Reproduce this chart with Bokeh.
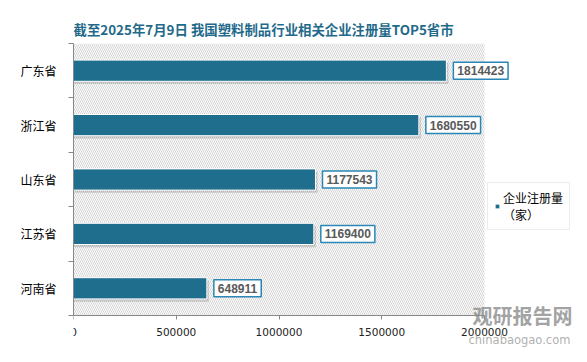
from bokeh.plotting import figure
from bokeh.models import (ColumnDataSource, Range1d, FixedTicker, BasicTickFormatter,
                          Label, Legend, LegendItem, BoxAnnotation)
from bokeh.core.properties import value
from bokeh.transform import dodge
from bokeh.embed import file_html
from bokeh.resources import INLINE

# ---- data ----
title_text = "截至2025年7月9日 我国塑料制品行业相关企业注册量TOP5省市"
provinces = ["广东省", "浙江省", "山东省", "江苏省", "河南省"]
counts = [1814423, 1680550, 1177543, 1169400, 648911]
x_ticks = [0, 500000, 1000000, 1500000, 2000000]
series_name = "企业注册量\n（家）"

BAR = "#1f6e8e"
CJK = "Noto Sans CJK SC"

# ---- layout (pixels) ----
W, H = 587, 362
L, PR, T, PB = 73, 484, 43, 315      # hatched plot area
FR, FB = 582, 357                    # frame extends further for annotations

n = len(provinces)
x_max = x_ticks[-1]
x_end = x_max * (FR - L) / (PR - L)
y_start = -n * (FB - PB) / (PB - T)

ypos = [n - i - 0.5 for i in range(n)]
source = ColumnDataSource(dict(y=ypos, val=counts, name=provinces,
                               label=[str(v) for v in counts]))

p = figure(width=W, height=H, x_range=Range1d(0, x_end), y_range=Range1d(y_start, n),
           output_backend="svg", toolbar_location=None,
           min_border_left=L, min_border_right=W - FR, min_border_top=T,
           min_border_bottom=H - FB)
p.background_fill_color = "white"
p.border_fill_color = "white"
p.outline_line_color = None
p.xgrid.visible = False
p.ygrid.visible = False

p.title.text = title_text
p.title.text_font = CJK
p.title.text_font_size = "13.4px"
p.title.text_font_style = "bold"
p.title.text_color = "#1f6a8a"
p.title.align = "left"
p.title.offset = 0
p.title.standoff = 9

# hatched plot area
p.add_layout(BoxAnnotation(left=0, right=x_max, bottom=0, top=n,
                           fill_alpha=0, line_alpha=0, hatch_pattern="left_diagonal_line",
                           hatch_color="#d4d4d4", hatch_scale=4, hatch_weight=1,
                           level="underlay"))

# shadows
p.hbar(y=dodge("y", -0.05), left=0, right=dodge("val", 10000), height=0.39, source=source,
       fill_color="#000000", fill_alpha=0.15, line_color=None)
bars = p.hbar(y="y", left=0, right="val", height=0.39, source=source,
              fill_color=BAR, line_color="white", line_width=1)

p.text(x="val", y="y", text="label", source=source, x_offset=7,
       text_baseline="middle", text_align="left",
       text_font=value("Liberation Sans"), text_font_size="12px", text_font_style="bold",
       text_color="#595959", background_fill_color="white",
       border_line_color="#2a86b5", border_line_width=1.5, padding=4)

# axes
p.xaxis.fixed_location = 0
p.xaxis.bounds = (0, x_max)
p.xaxis.ticker = FixedTicker(ticks=x_ticks)
p.xaxis.formatter = BasicTickFormatter(use_scientific=False)
p.xaxis.major_label_text_font = "DejaVu Sans"
p.xaxis.major_label_text_font_size = "10.5px"
p.xaxis.major_label_text_color = "#222222"
p.xaxis.axis_line_color = "#888888"
p.xaxis.major_tick_line_color = "#888888"
p.xaxis.major_tick_in = 0
p.xaxis.major_tick_out = 4
p.xaxis.minor_tick_line_color = None
p.xaxis.major_label_standoff = 8

p.yaxis.bounds = (0, n)
p.yaxis.ticker = FixedTicker(ticks=ypos, minor_ticks=list(range(n + 1)))
p.yaxis.major_label_overrides = {y: name for y, name in zip(ypos, provinces)}
p.yaxis.major_label_text_font = CJK
p.yaxis.major_label_text_font_size = "12px"
p.yaxis.major_label_text_color = "#000000"
p.yaxis.axis_line_color = "#888888"
p.yaxis.major_tick_in = 0
p.yaxis.major_tick_out = 0
p.yaxis.minor_tick_in = 0
p.yaxis.minor_tick_out = 5
p.yaxis.minor_tick_line_color = "#888888"
p.yaxis.major_label_standoff = 12

legend = Legend(items=[LegendItem(label=series_name, renderers=[bars])],
                location=(487 - L, FB - 230), orientation="vertical",
                border_line_color="#d9d9d9", border_line_width=1.5,
                background_fill_color="white", background_fill_alpha=1,
                label_text_font=CJK, label_text_font_size="12px", label_text_color="#000000",
                glyph_width=6, glyph_height=6, label_standoff=3, padding=6, margin=0,
                spacing=0)
p.add_layout(legend)

# watermark
p.add_layout(Label(x=472 - L, y=FB - 329, x_units="screen", y_units="screen", text="观研报告网",
                   text_font=CJK, text_font_size="20px", text_font_style="bold",
                   text_color="#8a8a8a", text_alpha=0.8))
p.add_layout(Label(x=468 - L, y=FB - 346, x_units="screen", y_units="screen",
                   text="chinabaogao.com",
                   text_font="DejaVu Sans", text_font_size="11.5px",
                   text_color="#9a9a9a", text_alpha=0.8))

open("out.html", "w").write(file_html(p, INLINE))
